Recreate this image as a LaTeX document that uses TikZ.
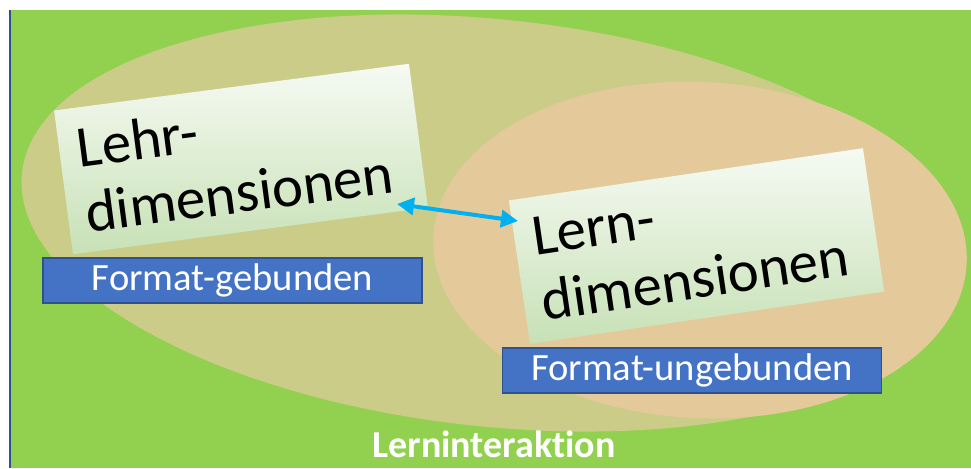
\documentclass[tikz,border=0pt]{standalone}
\usepackage{fontspec}
\setmainfont{Carlito}[Ligatures=NoCommon]
\usetikzlibrary{arrows.meta}
\definecolor{wiese}{HTML}{92D050}
\definecolor{oliv}{HTML}{CBCC87}
\definecolor{sand}{HTML}{E4C99B}
\definecolor{balken}{HTML}{4472C4}
\definecolor{balkenrand}{HTML}{2F528F}
\definecolor{pfeilblau}{HTML}{00B0F0}
\definecolor{kartehell}{HTML}{F6FAF3}
\definecolor{kartegruen}{HTML}{C7E1B6}

\begin{document}
\begin{tikzpicture}[x=0.5pt, y=-0.5pt,
  karte/.style={rotate=#1, top color=kartehell, bottom color=kartegruen,
    minimum width=179pt, minimum height=72.5pt, text width=161pt,
    align=left, inner xsep=9pt, inner ysep=0pt,
    font=\fontsize{29.4}{33}\selectfont},
  formatbox/.style={fill=balken, draw=balkenrand, line width=0.6pt,
    minimum width=189.5pt, minimum height=22.5pt, inner sep=0pt,
    text=white, font=\fontsize{19.3}{22}\selectfont},
  pfeil/.style={pfeilblau, line width=2pt,
    {Triangle[length=8.5pt,width=8.5pt]}-{Triangle[length=8.5pt,width=8.5pt]}}]
  \useasboundingbox (0,0) rectangle (971,468);
  % green ground with the thin rule on the left
  \fill[wiese] (9,10) rectangle (971,468);
  \draw[balkenrand, line width=1pt] (10,10) -- (10,468);
  % the two ellipses
  \fill[oliv, rotate around={-6.1:(493,223)}] (493,223) ellipse (473.7 and 203.5);
  \fill[sand, rotate around={-3:(700,250)}] (700,250) ellipse (267 and 168);
  % tilted cards
  \node[karte=7.5] (lehr) at (241,159) {Lehr-\\dimensionen};
  \node[karte=8.4] (lern) at (696.5,246) {Lern-\\dimensionen};
  % format labels
  \node[formatbox] (gebunden) at (232.5,280.5) {Format-gebunden};
  \node[formatbox] (ungebunden) at (692,370.5) {Format-ungebunden};
  \node[text=white, anchor=base, font=\fontsize{19}{22}\selectfont\bfseries]
    (interaktion) at (494,457) {Lerninteraktion};
  % double arrow between the cards
  \coordinate (spitzeL) at (397,204);
  \coordinate (spitzeR) at (518,221);
  \draw[pfeil] (spitzeL) -- (spitzeR);
\end{tikzpicture}
\end{document}
